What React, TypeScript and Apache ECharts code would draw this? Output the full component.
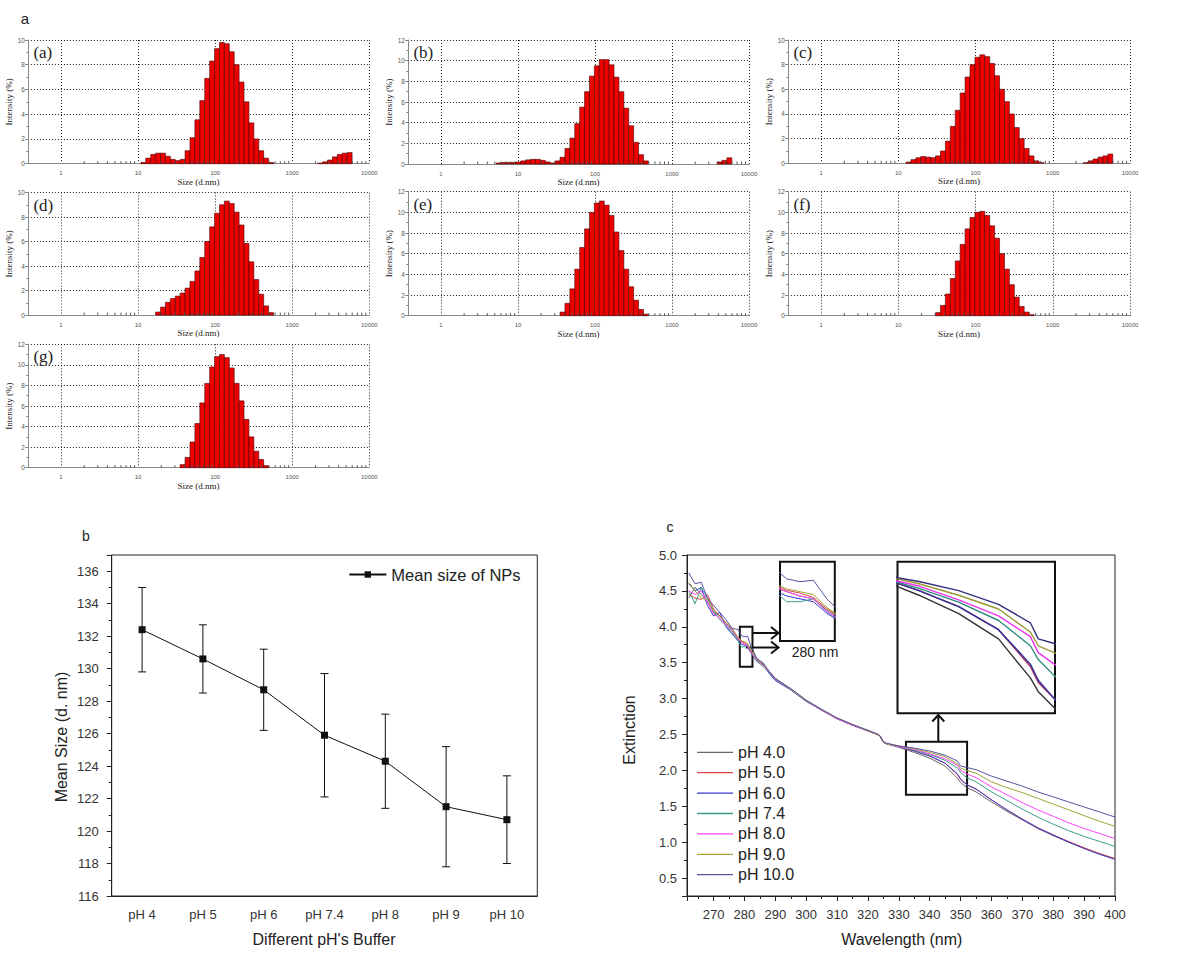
import React, { useEffect, useRef } from 'react';
import * as echarts from 'echarts';

// ---------------- DATA ----------------
// Zetasizer size classes (d.nm), 70 logarithmic bins
const sizeClasses = [0.4, 0.4632, 0.5365, 0.6213, 0.7195, 0.8332, 0.9649, 1.117, 1.294, 1.499, 1.736, 2.01, 2.328, 2.696, 3.122, 3.615, 4.187, 4.849, 5.615, 6.503, 7.531, 8.721, 10.1, 11.7, 13.54, 15.69, 18.17, 21.04, 24.36, 28.21, 32.67, 37.84, 43.82, 50.75, 58.77, 68.06, 78.82, 91.28, 105.7, 122.4, 141.8, 164.2, 190.1, 220.2, 255, 295.3, 342, 396.1, 458.7, 531.2, 615.1, 712.4, 825, 955.4, 1106, 1281, 1484, 1718, 1990, 2305, 2669, 3091, 3580, 4145, 4801, 5560, 6439, 7456, 8635, 10000];
const minorTickSizes = [2, 3, 4, 5, 6, 7, 8, 9, 20, 30, 40, 50, 60, 70, 80, 90, 200, 300, 400, 500, 600, 700, 800, 900, 2000, 3000, 4000, 5000, 6000, 7000, 8000, 9000];
const panelLabels = ['(a)', '(b)', '(c)', '(d)', '(e)', '(f)', '(g)'];
const intensityMax = [10, 12, 10, 10, 12, 12, 12];

// intensity (%) per bin, starting at the given size-class index
const aFirst = 23;
const aPeak = [0.1, 0.45, 0.75, 0.85, 0.85, 0.6, 0.35, 0.25, 0.35, 1.05, 2.1, 3.55, 5.1, 6.9, 8.3, 9.3, 9.8, 9.7, 9.05, 8.0, 6.6, 5.0, 3.3, 2.0, 1.05, 0.45, 0.1];
const aTailFirst = 59;
const aTail = [0.05, 0.15, 0.3, 0.55, 0.75, 0.85, 0.9];

const bFirst = 18;
const bPeak = [0.1, 0.15, 0.15, 0.15, 0.2, 0.3, 0.4, 0.45, 0.45, 0.35, 0.2, 0.1, 0.3, 0.65, 1.5, 2.5, 3.9, 5.5, 7.0, 8.5, 9.5, 10.1, 10.1, 9.6, 8.4, 7.0, 5.4, 3.7, 2.1, 0.9, 0.3];
const bTailFirst = 63;
const bTail = [0.2, 0.35, 0.6];

const cFirst = 24;
const cPeak = [0.1, 0.3, 0.45, 0.55, 0.5, 0.45, 0.6, 1.0, 1.8, 3.0, 4.3, 5.7, 7.0, 8.0, 8.6, 8.8, 8.65, 8.1, 7.1, 6.0, 5.0, 4.0, 2.9, 2.0, 1.2, 0.6, 0.2, 0.05];
const cTailFirst = 60;
const cTail = [0.05, 0.2, 0.35, 0.5, 0.6, 0.75];

const dFirst = 26;
const dPeak = [0.25, 0.65, 1.05, 1.35, 1.55, 1.8, 2.2, 2.75, 3.6, 4.7, 6.0, 7.2, 8.3, 9.0, 9.3, 9.1, 8.4, 7.35, 5.85, 4.35, 2.9, 1.7, 0.75, 0.2];

const eFirst = 31;
const ePeak = [0.35, 1.2, 2.6, 4.5, 6.6, 8.4, 10.0, 10.9, 11.1, 10.7, 9.7, 8.1, 6.3, 4.5, 2.8, 1.5, 0.6, 0.15];

const fFirst = 30;
const fPeak = [0.3, 1.0, 2.1, 3.6, 5.3, 6.9, 8.4, 9.5, 10.0, 10.1, 9.7, 8.7, 7.5, 6.0, 4.5, 3.0, 1.8, 0.9, 0.35, 0.1];

const gFirst = 31;
const gPeak = [0.3, 1.0, 2.5, 4.3, 6.3, 8.2, 9.8, 10.8, 11.0, 10.7, 9.7, 8.2, 6.5, 4.7, 3.0, 1.6, 0.8, 0.2];

// Panel b
const phBuffers = ['pH 4', 'pH 5', 'pH 6', 'pH 7.4', 'pH 8', 'pH 9', 'pH 10'];
const meanSize = [132.4, 130.6, 128.7, 125.9, 124.3, 121.5, 120.7];
const meanSizeErr = [2.6, 2.1, 2.5, 3.8, 2.9, 3.7, 2.7];

// Panel c
const wavelengths = [262, 264, 266, 268, 270, 272, 274, 276, 278, 279, 280, 281, 282, 284, 286, 288, 290, 295, 300, 305, 310, 315, 320, 323, 324, 325, 326, 330, 335, 340, 345, 349, 350, 352, 355, 360, 365, 370, 375, 380, 385, 390, 395, 400];
const extPH40 = [4.40, 4.55, 4.45, 4.35, 4.20, 4.15, 4.05, 3.95, 3.82, 3.79, 3.76, 3.74, 3.66, 3.55, 3.48, 3.38, 3.28, 3.13, 2.97, 2.84, 2.72, 2.63, 2.55, 2.50, 2.47, 2.39, 2.37, 2.32, 2.25, 2.17, 2.06, 1.89, 1.83, 1.76, 1.70, 1.56, 1.43, 1.31, 1.19, 1.09, 1.00, 0.92, 0.84, 0.77];
const extPH50 = [4.45, 4.40, 4.38, 4.45, 4.25, 4.15, 4.05, 3.98, 3.84, 3.80, 3.78, 3.75, 3.67, 3.56, 3.47, 3.37, 3.27, 3.13, 2.97, 2.84, 2.72, 2.63, 2.55, 2.50, 2.47, 2.39, 2.37, 2.33, 2.27, 2.20, 2.10, 1.94, 1.87, 1.80, 1.74, 1.59, 1.45, 1.32, 1.20, 1.10, 1.01, 0.92, 0.84, 0.77];
const extPH60 = [4.60, 4.50, 4.55, 4.30, 4.15, 4.20, 4.00, 3.90, 3.80, 3.76, 3.74, 3.72, 3.64, 3.52, 3.48, 3.35, 3.25, 3.12, 2.96, 2.84, 2.72, 2.63, 2.55, 2.50, 2.47, 2.39, 2.37, 2.33, 2.27, 2.20, 2.10, 1.95, 1.88, 1.80, 1.74, 1.59, 1.45, 1.32, 1.20, 1.10, 1.00, 0.91, 0.83, 0.76];
const extPH74 = [4.50, 4.32, 4.55, 4.40, 4.22, 4.10, 4.02, 3.92, 3.80, 3.72, 3.72, 3.74, 3.65, 3.52, 3.45, 3.36, 3.26, 3.13, 2.97, 2.84, 2.72, 2.63, 2.55, 2.50, 2.47, 2.39, 2.37, 2.33, 2.28, 2.22, 2.14, 2.03, 1.97, 1.90, 1.84, 1.70, 1.58, 1.46, 1.35, 1.25, 1.16, 1.08, 1.01, 0.94];
const extPH80 = [4.50, 4.45, 4.50, 4.35, 4.18, 4.12, 4.03, 3.95, 3.83, 3.79, 3.76, 3.74, 3.65, 3.54, 3.46, 3.37, 3.27, 3.13, 2.97, 2.84, 2.72, 2.63, 2.55, 2.50, 2.47, 2.39, 2.37, 2.33, 2.29, 2.23, 2.16, 2.07, 2.00, 1.95, 1.90, 1.77, 1.66, 1.55, 1.45, 1.36, 1.27, 1.19, 1.12, 1.05];
const extPH90 = [4.62, 4.50, 4.40, 4.38, 4.22, 4.15, 4.06, 3.97, 3.85, 3.81, 3.79, 3.77, 3.68, 3.55, 3.47, 3.38, 3.28, 3.13, 2.97, 2.85, 2.73, 2.64, 2.55, 2.50, 2.47, 2.39, 2.37, 2.34, 2.30, 2.25, 2.19, 2.09, 2.03, 2.00, 1.96, 1.84, 1.76, 1.69, 1.61, 1.53, 1.45, 1.37, 1.29, 1.22];
const extPH100 = [4.75, 4.60, 4.62, 4.40, 4.30, 4.20, 4.10, 3.98, 3.96, 3.88, 3.86, 3.87, 3.74, 3.56, 3.50, 3.38, 3.28, 3.14, 2.98, 2.85, 2.73, 2.64, 2.56, 2.51, 2.48, 2.40, 2.38, 2.34, 2.31, 2.27, 2.21, 2.13, 2.06, 2.04, 2.01, 1.92, 1.85, 1.78, 1.70, 1.63, 1.56, 1.49, 1.42, 1.35];
const spectraNames = ['pH 4.0', 'pH 5.0', 'pH 6.0', 'pH 7.4', 'pH 8.0', 'pH 9.0', 'pH 10.0'];
const spectraValues = [extPH40, extPH50, extPH60, extPH74, extPH80, extPH90, extPH100];
const spectraColors = ['#666666', '#e04848', '#3a3ad0', '#3a9d8c', '#ff44ff', '#a3a33a', '#55559e'];
const insetColors = ['#333333', '#b0305a', '#30309a', '#2f8c7c', '#ee33ee', '#999933', '#33337e'];
// zoom windows [xMin, xMax, yMin, yMax]
const zoom280 = [278.5, 282.6, 3.445, 4.0];
const zoom340 = [332.3, 352.1, 1.66, 2.4];
const inset340View = [332.3, 352.1, 1.736, 2.396];

// ---------------- LAYOUT ----------------
const histBoxes = [
  [27.9, 40, 341.4, 123.7],
  [407.9, 40, 341.1, 124],
  [787.9, 40, 342.1, 123.3],
  [27.9, 192.5, 341.4, 122.6],
  [407.9, 191.7, 341.1, 124],
  [787.9, 191.7, 342.1, 124],
  [27.9, 344.3, 341.4, 123.4],
];
const SANS = 'Liberation Sans';
const SERIF = 'Liberation Serif';

const bins = (first: number, values: number[]) => values.map((v, k) => [sizeClasses[first + k], v]);
const histData = [
  [...bins(aFirst, aPeak), ...bins(aTailFirst, aTail)],
  [...bins(bFirst, bPeak), ...bins(bTailFirst, bTail)],
  [...bins(cFirst, cPeak), ...bins(cTailFirst, cTail)],
  bins(dFirst, dPeak),
  bins(eFirst, ePeak),
  bins(fFirst, fPeak),
  bins(gFirst, gPeak),
];

const HALF_BIN = Math.sqrt(sizeClasses[1] / sizeClasses[0]);
const isPow10 = (v: number) => Math.abs(Math.log10(v) - Math.round(Math.log10(v))) < 1e-6;

function buildOption() {
  const grid: any[] = [];
  const xAxis: any[] = [];
  const yAxis: any[] = [];
  const series: any[] = [];
  const graphic: any[] = [];

  const barRender = (_p: any, api: any) => {
    const s = api.value(0);
    const v = api.value(1);
    const p0 = api.coord([s / HALF_BIN, v]);
    const p1 = api.coord([s * HALF_BIN, 0]);
    return {
      type: 'rect',
      shape: { x: p0[0], y: p0[1], width: p1[0] - p0[0], height: p1[1] - p0[1] },
      style: { fill: '#ee0000', stroke: '#4a0000', lineWidth: 0.6 },
    };
  };
  const tickRender = (_p: any, api: any) => {
    const p = api.coord([api.value(0), 0]);
    return { type: 'line', shape: { x1: p[0], y1: p[1], x2: p[0], y2: p[1] - 2.5 }, style: { stroke: '#555', lineWidth: 1 } };
  };

  histBoxes.forEach(([l, t, w, h], i) => {
    grid.push({ left: l, top: t, width: w, height: h });
    xAxis.push({
      type: 'log', gridIndex: i, min: 0.372, max: 10000, logBase: 10,
      axisLine: { lineStyle: { color: '#8a8a8a', width: 1.2 } },
      axisTick: { show: false },
      axisLabel: { fontSize: 6, color: '#555', margin: 6.5, fontFamily: SANS, formatter: (v: number) => (isPow10(v) ? String(Math.round(v)) : '') },
      splitLine: { show: true, showMinLine: false, lineStyle: { type: [1, 2], color: '#222', width: 1 } },
      name: 'Size (d.nm)', nameLocation: 'middle', nameGap: 13.5,
      nameTextStyle: { fontFamily: SERIF, fontSize: 9, color: '#222' },
    });
    yAxis.push({
      type: 'value', gridIndex: i, min: 0, max: intensityMax[i], interval: 2,
      axisLine: { show: true, lineStyle: { color: '#8a8a8a', width: 1 } },
      axisTick: { show: true, length: 2.5, lineStyle: { color: '#777' } },
      minorTick: { show: true, splitNumber: 2, length: 1.5, lineStyle: { color: '#777' } },
      axisLabel: { fontSize: 6.5, color: '#555', margin: 3, fontFamily: SANS },
      splitLine: { show: true, showMinLine: false, lineStyle: { type: [1, 2], color: '#222', width: 1 } },
      name: 'Intensity (%)', nameLocation: 'middle', nameGap: 12.5,
      nameTextStyle: { fontFamily: SERIF, fontSize: 9, color: '#222' },
    });
    series.push({
      type: 'custom', xAxisIndex: i, yAxisIndex: i, data: histData[i], renderItem: barRender,
      encode: { x: 0, y: 1 }, silent: true, z: 2,
    });
    series.push({
      type: 'custom', xAxisIndex: i, yAxisIndex: i, data: minorTickSizes.map((s) => [s, 0]), renderItem: tickRender,
      encode: { x: 0, y: 1 }, silent: true, z: 3,
    });
    graphic.push({
      type: 'text', x: l + 5.5, y: t + 12.5,
      style: { text: panelLabels[i], font: `17px "${SERIF}"`, fill: '#222', textAlign: 'left', textVerticalAlign: 'middle', align: 'left', verticalAlign: 'middle' },
    });
  });

  // ---- Panel b ----
  grid.push({ left: 111.7, top: 555, width: 425.6, height: 341, show: true, borderColor: '#222', borderWidth: 1 });
  xAxis.push({
    type: 'category', gridIndex: 7, data: phBuffers, boundaryGap: true,
    axisLine: { lineStyle: { color: '#222' } },
    axisTick: { alignWithLabel: true, length: 5, lineStyle: { color: '#222' } },
    axisLabel: { fontSize: 13, color: '#333', margin: 11.5, fontFamily: SANS, interval: 0 },
    splitLine: { show: false },
  });
  yAxis.push({
    type: 'value', gridIndex: 7, min: 116, max: 137, interval: 2,
    axisLine: { show: true, lineStyle: { color: '#222' } },
    axisTick: { show: true, length: 5, lineStyle: { color: '#222' } },
    minorTick: { show: true, splitNumber: 2, length: 3, lineStyle: { color: '#222' } },
    axisLabel: { fontSize: 13, color: '#333', margin: 13, fontFamily: SANS, formatter: (v: number) => (v % 2 === 0 ? String(v) : '') },
    splitLine: { show: false },
  });
  series.push({
    type: 'custom', name: 'error', xAxisIndex: 7, yAxisIndex: 7,
    data: meanSize.map((m, i) => [i, m - meanSizeErr[i], m + meanSizeErr[i]]),
    encode: { x: 0, y: [1, 2] }, silent: true, z: 2,
    renderItem: (_p: any, api: any) => {
      const x = api.value(0);
      const lo = api.coord([x, api.value(1)]);
      const hi = api.coord([x, api.value(2)]);
      const st = { stroke: '#111', lineWidth: 1 };
      const w = 4;
      return {
        type: 'group',
        children: [
          { type: 'line', shape: { x1: lo[0], y1: lo[1], x2: hi[0], y2: hi[1] }, style: st },
          { type: 'line', shape: { x1: lo[0] - w, y1: lo[1], x2: lo[0] + w, y2: lo[1] }, style: st },
          { type: 'line', shape: { x1: hi[0] - w, y1: hi[1], x2: hi[0] + w, y2: hi[1] }, style: st },
        ],
      };
    },
  });
  series.push({
    type: 'line', name: 'Mean size of NPs', xAxisIndex: 7, yAxisIndex: 7, data: meanSize,
    symbol: 'rect', symbolSize: 7, showSymbol: true,
    lineStyle: { color: '#111', width: 1 }, itemStyle: { color: '#111' }, z: 3,
  });

  // ---- Panel c ----
  grid.push({ left: 687, top: 555, width: 428, height: 341, show: true, borderColor: '#222', borderWidth: 1 });
  xAxis.push({
    type: 'value', gridIndex: 8, min: 261.4, max: 400, splitNumber: 13,
    axisLine: { lineStyle: { color: '#222' } },
    axisTick: { show: true, length: 5, lineStyle: { color: '#222' } },
    minorTick: { show: true, splitNumber: 2, length: 3, lineStyle: { color: '#222' } },
    axisLabel: { fontSize: 13, color: '#333', margin: 11.5, fontFamily: SANS, formatter: (v: number) => (Math.abs(v / 10 - Math.round(v / 10)) < 1e-6 ? String(v) : '') },
    splitLine: { show: false },
  });
  yAxis.push({
    type: 'value', gridIndex: 8, min: 0.25, max: 5, splitNumber: 10,
    axisLine: { show: true, lineStyle: { color: '#222' } },
    axisTick: { show: true, length: 5, lineStyle: { color: '#222' } },
    minorTick: { show: true, splitNumber: 2, length: 3, lineStyle: { color: '#222' } },
    axisLabel: { fontSize: 13, color: '#333', margin: 10, fontFamily: SANS, formatter: (v: number) => (Math.abs(v * 2 - Math.round(v * 2)) < 1e-6 ? v.toFixed(1) : '') },
    splitLine: { show: false },
  });
  // insets
  grid.push({ left: 780, top: 561.7, width: 54.8, height: 79.3, show: true, borderColor: '#111', borderWidth: 2, backgroundColor: '#fff' });
  grid.push({ left: 897.5, top: 561.7, width: 157.5, height: 151.6, show: true, borderColor: '#111', borderWidth: 2, backgroundColor: '#fff' });
  xAxis.push({ type: 'value', gridIndex: 9, min: zoom280[0], max: zoom280[1], show: false });
  yAxis.push({ type: 'value', gridIndex: 9, min: zoom280[2], max: zoom280[3], show: false });
  xAxis.push({ type: 'value', gridIndex: 10, min: inset340View[0], max: inset340View[1], show: false });
  yAxis.push({ type: 'value', gridIndex: 10, min: inset340View[2], max: inset340View[3], show: false });

  spectraNames.forEach((name, k) => {
    const data = wavelengths.map((w, i) => [w, spectraValues[k][i]]);
    series.push({
      type: 'line', name, xAxisIndex: 8, yAxisIndex: 8, data, symbol: 'none',
      lineStyle: { color: spectraColors[k], width: 1 }, itemStyle: { color: spectraColors[k] }, z: 3,
      ...(k === 0
        ? {
            markArea: {
              silent: true,
              itemStyle: { color: 'rgba(0,0,0,0)', borderColor: '#111', borderWidth: 2 },
              data: [
                [{ coord: [zoom280[0], zoom280[3]] }, { coord: [zoom280[1], zoom280[2]] }],
                [{ coord: [zoom340[0], zoom340[3]] }, { coord: [zoom340[1], zoom340[2]] }],
              ],
            },
          }
        : {}),
    });
    series.push({
      type: 'line', name, xAxisIndex: 9, yAxisIndex: 9, data, symbol: 'none', clip: true,
      lineStyle: { color: spectraColors[k], width: 1 }, itemStyle: { color: spectraColors[k] }, z: 4,
    });
    series.push({
      type: 'line', name, xAxisIndex: 10, yAxisIndex: 10, data, symbol: 'none', clip: true,
      lineStyle: { color: insetColors[k], width: 1.4 }, itemStyle: { color: spectraColors[k] }, z: 4,
    });
  });

  const txt = (text: string, x: number, y: number, size: number, extra: any = {}) => ({
    type: 'text', x, y, ...extra,
    style: { text, font: `${size}px "${SANS}"`, fill: '#222', textAlign: 'center', textVerticalAlign: 'middle', align: 'center', verticalAlign: 'middle' },
  });
  graphic.push(txt('a', 25, 18, 15));
  graphic.push(txt('b', 86, 536, 14));
  graphic.push(txt('c', 670, 527, 14));
  graphic.push(txt('Mean Size (d. nm)', 61.7, 737, 16, { rotation: Math.PI / 2 }));
  graphic.push(txt("Different pH's Buffer", 324, 939.3, 16));
  graphic.push(txt('Extinction', 629.6, 730, 16, { rotation: Math.PI / 2 }));
  graphic.push(txt('Wavelength (nm)', 901.8, 939.3, 16));
  graphic.push(txt('280 nm', 815, 651.7, 14));
  const arrowStyle = { stroke: '#111', lineWidth: 2, fill: 'none' };
  graphic.push({ type: 'line', shape: { x1: 752.6, y1: 633, x2: 778.5, y2: 633 }, style: arrowStyle });
  graphic.push({ type: 'polyline', shape: { points: [[771, 627], [778.5, 633], [771, 639]] }, style: arrowStyle });
  graphic.push({ type: 'line', shape: { x1: 746, y1: 647.5, x2: 778.5, y2: 647.5 }, style: arrowStyle });
  graphic.push({ type: 'polyline', shape: { points: [[771, 641.5], [778.5, 647.5], [771, 653.5]] }, style: arrowStyle });
  graphic.push({ type: 'line', shape: { x1: 938.3, y1: 741.7, x2: 938.3, y2: 715 }, style: arrowStyle });
  graphic.push({ type: 'polyline', shape: { points: [[932.3, 721.5], [938.3, 715], [944.3, 721.5]] }, style: arrowStyle });

  return {
    animation: false,
    backgroundColor: '#fff',
    grid, xAxis, yAxis, series, graphic,
    legend: [
      {
        data: ['Mean size of NPs'], left: 348.3, top: 566, padding: 0, itemWidth: 37, itemHeight: 8,
        textStyle: { fontSize: 16.5, color: '#222', fontFamily: SANS }, selectedMode: false,
      },
      {
        data: spectraNames, orient: 'vertical', left: 697, top: 744.3, padding: 0, itemWidth: 36, itemHeight: 1.3, itemGap: 4.4,
        icon: 'rect',
        textStyle: { fontSize: 16, lineHeight: 16, color: '#222', fontFamily: SANS }, selectedMode: false,
      },
    ],
  };
}

export default function App() {
  const ref = useRef<HTMLDivElement>(null);
  useEffect(() => {
    if (!ref.current) return;
    const chart = echarts.init(ref.current, undefined, { renderer: 'svg' });
    chart.setOption(buildOption() as any);
    return () => chart.dispose();
  }, []);
  return <div ref={ref} style={{ position: 'fixed', left: 0, top: 0, width: 1200, height: 976, background: '#fff' }} />;
}
